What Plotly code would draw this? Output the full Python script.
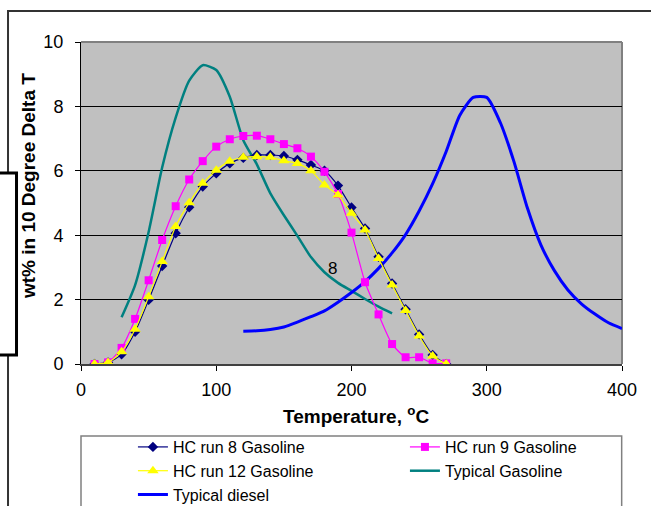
import plotly.graph_objects as go

# Distillation profiles, wt% recovered per 10-degree temperature step
temps_hc = [10, 20, 30, 40, 50, 60, 70, 80, 90, 100, 110, 120, 130, 140,
            150, 160, 170, 180, 190, 200, 210, 220, 230, 240, 250, 260, 270]
run8 = [0, 0.05, 0.3, 1.0, 1.99, 3.04, 4.06, 4.87, 5.51, 5.92, 6.23, 6.4, 6.49, 6.49,
        6.46, 6.34, 6.18, 6.0, 5.54, 4.86, 4.21, 3.33, 2.5, 1.7, 0.92, 0.28, 0]
run9 = [0, 0.05, 0.5, 1.4, 2.6, 3.85, 4.9, 5.73, 6.3, 6.75, 6.98, 7.08, 7.09, 6.98,
        6.83, 6.7, 6.44, 5.97, 5.28, 4.08, 2.54, 1.54, 0.62, 0.21, 0.21, 0.02, 0.02]
run12 = [0, 0.05, 0.38, 1.08, 2.09, 3.18, 4.27, 5.01, 5.61, 6.02, 6.3, 6.42, 6.44, 6.42,
         6.31, 6.23, 6.0, 5.56, 5.25, 4.68, 4.16, 3.28, 2.45, 1.66, 0.87, 0.25, 0]

temps_gasoline = [30, 40, 50, 60, 70, 80, 90, 100, 110, 120, 130, 140, 150, 160,
                  170, 180, 190, 200, 210, 220, 230]
typical_gasoline = [1.45, 2.45, 4.1, 6.1, 7.65, 8.8, 9.28, 9.13, 8.3, 6.95, 6.2, 5.3,
                    4.62, 3.98, 3.32, 2.85, 2.52, 2.27, 2.02, 1.78, 1.57]

temps_diesel = [120, 130, 140, 150, 160, 170, 180, 190, 200, 210, 220, 230, 240, 250,
                260, 270, 280, 290, 300, 310, 320, 330, 340, 350, 360, 370, 380, 390, 400]
typical_diesel = [1.02, 1.03, 1.07, 1.15, 1.3, 1.47, 1.65, 1.92, 2.22, 2.56, 2.97, 3.45,
                  4.02, 4.75, 5.6, 6.6, 7.72, 8.28, 8.28, 7.5, 6.3, 4.85, 3.7, 2.9, 2.3,
                  1.87, 1.55, 1.28, 1.1]

x_ticks = [0, 100, 200, 300, 400]
y_ticks = [0, 2, 4, 6, 8, 10]

FONT = "Arial, Liberation Sans, sans-serif"

fig = go.Figure()

# Reference curves (drawn first so the run markers sit on top)
fig.add_trace(go.Scatter(
    x=temps_gasoline, y=typical_gasoline, name="Typical Gasoline", mode="lines",
    line=dict(color="#008080", width=2.5, shape="spline", smoothing=0.6),
    legendrank=4))
fig.add_trace(go.Scatter(
    x=temps_diesel, y=typical_diesel, name="Typical diesel", mode="lines",
    line=dict(color="#0000FF", width=3, shape="spline", smoothing=0.6),
    legendrank=5))

fig.add_trace(go.Scatter(
    x=temps_hc, y=run8, name="HC run 8 Gasoline", mode="lines+markers",
    line=dict(color="#000080", width=1.2, shape="spline", smoothing=0.6),
    marker=dict(symbol="diamond", size=8, color="#000080"),
    legendrank=1))
fig.add_trace(go.Scatter(
    x=temps_hc, y=run9, name="HC run 9 Gasoline", mode="lines+markers",
    line=dict(color="#FF00FF", width=1.2, shape="spline", smoothing=0.6),
    marker=dict(symbol="square", size=8, color="#FF00FF"),
    legendrank=2))
fig.add_trace(go.Scatter(
    x=temps_hc, y=run12, name="HC run 12 Gasoline", mode="lines+markers",
    line=dict(color="#FFFF00", width=1.2, shape="spline", smoothing=0.6),
    marker=dict(symbol="triangle-up", size=10, color="#FFFF00"),
    legendrank=3))

shapes = [
    # outer chart frame
    dict(type="rect", xref="paper", yref="paper", x0=-0.1349, x1=1.2, y0=-0.6, y1=1.0963,
         line=dict(color="#333333", width=2), fillcolor="rgba(0,0,0,0)", layer="below"),
    # stray box behind the vertical title
    dict(type="rect", xref="paper", yref="paper", x0=-0.2, x1=-0.1192, y0=0.028, y1=0.5932,
         line=dict(color="black", width=3), fillcolor="white", layer="below"),
    # legend frame
    dict(type="rect", xref="paper", yref="paper", x0=0.0, x1=0.9994, y0=-0.6, y1=-0.2236,
         line=dict(color="#808080", width=1.5), fillcolor="white", layer="below"),
    # plot-area top and right borders
    dict(type="line", xref="paper", yref="paper", x0=0, x1=1, y0=1, y1=1,
         line=dict(color="#808080", width=2), layer="between"),
    dict(type="line", xref="paper", yref="paper", x0=1, x1=1, y0=0, y1=1,
         line=dict(color="#808080", width=2), layer="between"),
]

annotations = [
    dict(text="wt% in 10 Degree Delta T", xref="paper", yref="paper",
         x=-0.1201, y=0.5512, textangle=-90, showarrow=False,
         font=dict(family=FONT, size=19, color="black", weight="bold")),
    dict(text="Temperature, <sup>o</sup>C", xref="paper", yref="paper",
         x=0.508, y=-0.2019, showarrow=False,
         font=dict(family=FONT, size=19, color="black", weight="bold")),
    dict(text="8", x=186.3, y=2.98, xref="x", yref="y", showarrow=False,
         font=dict(family=FONT, size=17, color="black")),
]

fig.update_layout(
    width=651, height=506,
    margin=dict(l=81, r=29, t=42, b=142, autoexpand=False),
    paper_bgcolor="white",
    plot_bgcolor="#C0C0C0",
    font=dict(family=FONT, size=18, color="black"),
    showlegend=True,
    legend=dict(
        orientation="h", x=0.096, y=-0.205, xanchor="left", yanchor="top",
        entrywidth=227, entrywidthmode="pixels",
        font=dict(family=FONT, size=16, color="black"),
        bgcolor="rgba(0,0,0,0)", borderwidth=0,
    ),
    shapes=shapes,
    annotations=annotations,
)

fig.update_xaxes(
    range=[0, 400], tickvals=x_ticks, ticktext=[str(v) for v in x_ticks],
    showgrid=False, zeroline=False,
    showline=True, linecolor="#404040", linewidth=1.5,
    ticks="outside", ticklen=5, tickcolor="black", tickwidth=1,
    ticklabelstandoff=4,
    tickfont=dict(family=FONT, size=18, color="black"),
)
fig.update_yaxes(
    range=[0, 10], tickvals=y_ticks, ticktext=[str(v) for v in y_ticks],
    showgrid=True, gridcolor="black", gridwidth=1, zeroline=False,
    showline=True, linecolor="black", linewidth=1,
    ticks="outside", ticklen=5, tickcolor="black", tickwidth=1,
    ticklabelstandoff=8,
    tickfont=dict(family=FONT, size=18, color="black"),
)

fig.write_html("out.html")
